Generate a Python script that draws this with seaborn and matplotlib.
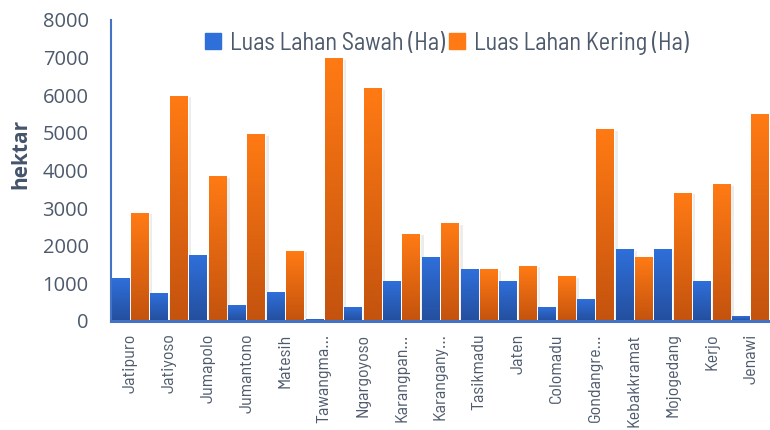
import numpy as np
import pandas as pd
import matplotlib
matplotlib.use("Agg")
import matplotlib.pyplot as plt
import matplotlib.patheffects as pe
import seaborn as sns
from matplotlib.colors import to_rgb
from matplotlib.lines import Line2D
from matplotlib import font_manager as fm

kecamatan = ["Jatipuro", "Jatiyoso", "Jumapolo", "Jumantono", "Matesih",
             "Tawangma…", "Ngargoyoso", "Karangpan…", "Karangany…", "Tasikmadu",
             "Jaten", "Colomadu", "Gondangre…", "Kebakkramat", "Mojogedang",
             "Kerjo", "Jenawi"]
sawah = [1140, 720, 1730, 400, 745, 30, 350, 1060, 1700, 1380,
         1060, 370, 560, 1910, 1910, 1060, 130]
kering = [2870, 5980, 3830, 4950, 1860, 6970, 6170, 2310, 2580, 1360,
          1460, 1170, 5080, 1700, 3400, 3620, 5480]
series_names = ["Luas Lahan Sawah (Ha)", "Luas Lahan Kering (Ha)"]
yticks = [0, 1000, 2000, 3000, 4000, 5000, 6000, 7000, 8000]

df = pd.DataFrame({
    "Kecamatan": kecamatan * 2,
    "Seri": [series_names[0]] * len(kecamatan) + [series_names[1]] * len(kecamatan),
    "Luas": sawah + kering,
})

sns.set_theme(style="white")
plt.rcParams["font.family"] = ["Open Sans", "DejaVu Sans"]
cond = ["Barlow Semi Condensed", "Barlow Condensed", "DejaVu Sans"]

text_col = "#44546A"
tick_col = "#4D5A6C"
blue_top, blue_bot = "#2F6FDA", "#244F9E"
orange_top, orange_bot = "#FF7A14", "#C4530E"

fig = plt.figure(figsize=(7.7, 4.3), dpi=100)
ax = fig.add_axes([0.144, 0.2535, 0.856, 0.70])

sns.barplot(data=df, x="Kecamatan", y="Luas", hue="Seri",
            palette=[blue_top, orange_top], width=1.0, gap=0.08,
            legend=False, ax=ax, saturation=1)

def grad_img(top, bot, n=64):
    t = np.linspace(0, 1, n)[:, None]
    a = np.array(to_rgb(top)); b = np.array(to_rgb(bot))
    return (a[None, :] * (1 - t) + b[None, :] * t)[:, None, :]

g_blue = grad_img(blue_top, blue_bot)
g_orange = grad_img(orange_top, orange_bot)
for i, p in enumerate(list(ax.patches)):
    h = p.get_height()
    if h <= 0:
        continue
    p.set_path_effects([pe.SimplePatchShadow(offset=(2.5, -1), shadow_rgbFace="#9a9a9a",
                                             alpha=0.18), pe.Normal()])
    x0, y0, w = p.get_x(), p.get_y(), p.get_width()
    img = g_blue if i < len(kecamatan) else g_orange
    ax.imshow(img, extent=[x0, x0 + w, y0, y0 + h], aspect="auto",
              origin="upper", clip_path=p, zorder=p.get_zorder() + 0.1,
              interpolation="bilinear")

ax.set_xlim(-0.5, len(kecamatan) - 0.5)
ax.set_ylim(0, 8000)
ax.set_yticks(yticks)
ax.set_yticklabels([str(v) for v in yticks], fontsize=14.5, color=tick_col)
ax.tick_params(axis="y", length=0, pad=16)
ax.tick_params(axis="x", length=0, pad=9)
ax.set_xticks(range(len(kecamatan)))
ax.set_xticklabels(kecamatan, rotation=90, fontsize=13, color=tick_col,
                   family=cond, va="top")
ax.set_xlabel("")
ax.set_ylabel("hektar", fontsize=15, fontweight="bold", color=text_col)
ax.yaxis.set_label_coords(-0.12, 0.555)

for s in ["top", "right"]:
    ax.spines[s].set_visible(False)
ax.spines["left"].set_color("#4472C4")
ax.spines["left"].set_linewidth(1.5)
ax.spines["bottom"].set_color("#4472C4")
ax.spines["bottom"].set_linewidth(2.2)
ax.spines["bottom"].set_zorder(5)

handles = [Line2D([0], [0], marker="s", linestyle="", markersize=12,
                  markerfacecolor=c, markeredgecolor=c) for c in [blue_top, orange_top]]
leg = fig.legend(handles, series_names, loc="center", bbox_to_anchor=(0.5786, 0.9),
                 ncol=2, frameon=False, handlelength=0.8,
                 handletextpad=0.3, columnspacing=0.1,
                 prop=fm.FontProperties(family=cond, size=17.5))
for t in leg.get_texts():
    t.set_color(tick_col)

fig.savefig("out.png", dpi=100)
